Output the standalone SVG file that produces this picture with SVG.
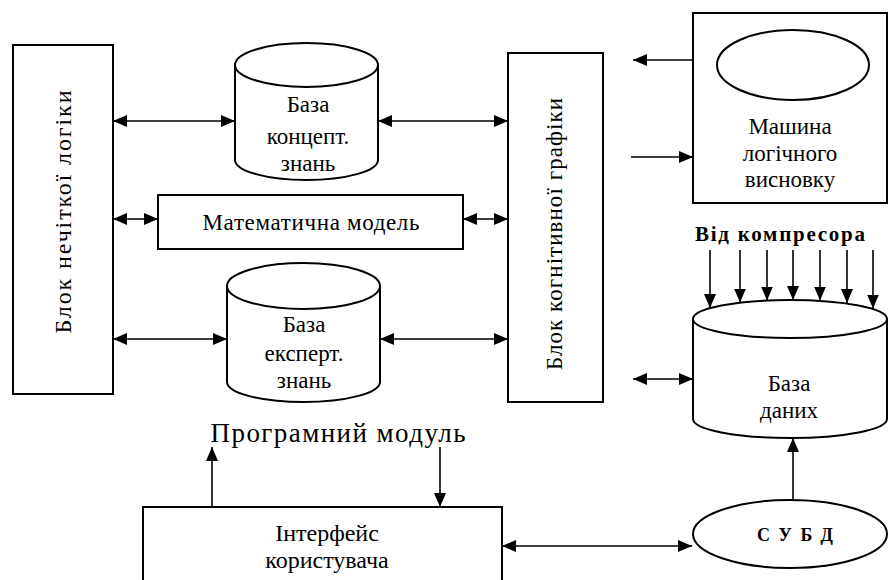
<svg xmlns="http://www.w3.org/2000/svg" width="889" height="580" viewBox="0 0 889 580">
<defs>
<marker id="ah" viewBox="0 0 14 12" markerWidth="14" markerHeight="12" refX="14" refY="6" orient="auto-start-reverse" markerUnits="userSpaceOnUse">
<path d="M0,0 L14,6 L0,12 z" fill="#000"/>
</marker>
<style>
.box{fill:#fff;stroke:#000;stroke-width:2}
.t{font-family:"Liberation Serif","Times New Roman",serif;font-size:23px;fill:#000;text-anchor:middle}
.b{font-weight:bold}
.c{fill:none;stroke:#000;stroke-width:1.6}
.bi{marker-start:url(#ah);marker-end:url(#ah)}
.one{marker-end:url(#ah)}
</style>
</defs>
<rect width="889" height="580" fill="#fff"/>

<g id="fuzzy-logic">
<rect class="box" x="13" y="45" width="100" height="349"/>
<text class="t" transform="translate(71,212) rotate(-90)" style="font-size:24px" textLength="243" lengthAdjust="spacing">Блок нечіткої логіки</text>
</g>

<g id="concept-kb">
<path class="box" d="M235,65 A71.5,22 0 0 1 378,65 V160 A71.5,20 0 0 1 235,160 Z"/>
<path class="box" d="M235,65 A71.5,22 0 0 0 378,65" fill="none"/>
<text class="t" x="308" y="112">База</text>
<text class="t" x="308" y="144">концепт.</text>
<text class="t" x="308" y="171">знань</text>
</g>

<g id="math-model">
<rect class="box" x="158" y="195" width="305" height="54"/>
<text class="t" x="311" y="230" textLength="217" lengthAdjust="spacing">Математична модель</text>
</g>

<g id="expert-kb">
<path class="box" d="M227,286 A76.5,23 0 0 1 380,286 V382 A76.5,20 0 0 1 227,382 Z"/>
<path class="box" d="M227,286 A76.5,23 0 0 0 380,286" fill="none"/>
<text class="t" x="304" y="332">База</text>
<text class="t" x="304" y="361">експерт.</text>
<text class="t" x="304" y="388">знань</text>
</g>

<g id="cognitive-graphics">
<rect class="box" x="508" y="53" width="95" height="349"/>
<text class="t" transform="translate(562,234) rotate(-90)" textLength="272" lengthAdjust="spacing">Блок когнітивної графіки</text>
</g>

<g id="inference-machine">
<rect class="box" x="693" y="13" width="194" height="190"/>
<ellipse class="box" cx="793" cy="65" rx="76" ry="35"/>
<text class="t" x="790" y="134">Машина</text>
<text class="t" x="790" y="161">логічного</text>
<text class="t" x="790" y="187">висновку</text>
</g>

<g id="compressor-label">
<text class="t b" x="780" y="241" style="font-size:21px" textLength="170" lengthAdjust="spacing">Від  компресора</text>
</g>

<g id="database">
<path class="box" d="M693,319 A97,19 0 0 1 887,319 V419 A97,19 0 0 1 693,419 Z"/>
<path class="box" d="M693,319 A97,19 0 0 0 887,319" fill="none"/>
<text class="t" x="789" y="391">База</text>
<text class="t" x="789" y="418">даних</text>
</g>

<g id="dbms">
<ellipse class="box" cx="790" cy="534" rx="97" ry="34"/>
<text class="t b" x="795" y="541" style="font-size:18px" textLength="76" lengthAdjust="spacing">СУБД</text>
</g>

<g id="program-module">
<text class="t" x="338" y="442" style="font-size:27px" textLength="255" lengthAdjust="spacing">Програмний  модуль</text>
</g>

<g id="user-interface">
<rect class="box" x="143" y="507" width="359" height="90"/>
<text class="t" x="327" y="541" style="font-size:24px">Інтерфейс</text>
<text class="t" x="327" y="568" style="font-size:24px">користувача</text>
</g>

<g id="connectors">
<path class="c bi" d="M113,121 H235"/>
<path class="c bi" d="M378,121 H508"/>
<path class="c bi" d="M113,219 H158"/>
<path class="c bi" d="M463,219 H508"/>
<path class="c bi" d="M113,339 H227"/>
<path class="c bi" d="M380,339 H508"/>
<path class="c one" d="M693,60 H633"/>
<path class="c one" d="M631,157 H693"/>
<path class="c bi" d="M633,379 H693"/>
<path class="c one" d="M710,250 V308"/>
<path class="c one" d="M740,250 V302.5"/>
<path class="c one" d="M767,250 V300.5"/>
<path class="c one" d="M793,250 V300"/>
<path class="c one" d="M820,250 V300.5"/>
<path class="c one" d="M847,250 V303"/>
<path class="c one" d="M873,250 V308.5"/>
<path class="c one" d="M793,500 V438"/>
<path class="c bi" d="M502,546 H692"/>
<path class="c one" d="M212,507 V447"/>
<path class="c one" d="M440,447 V507"/>
</g>
</svg>
